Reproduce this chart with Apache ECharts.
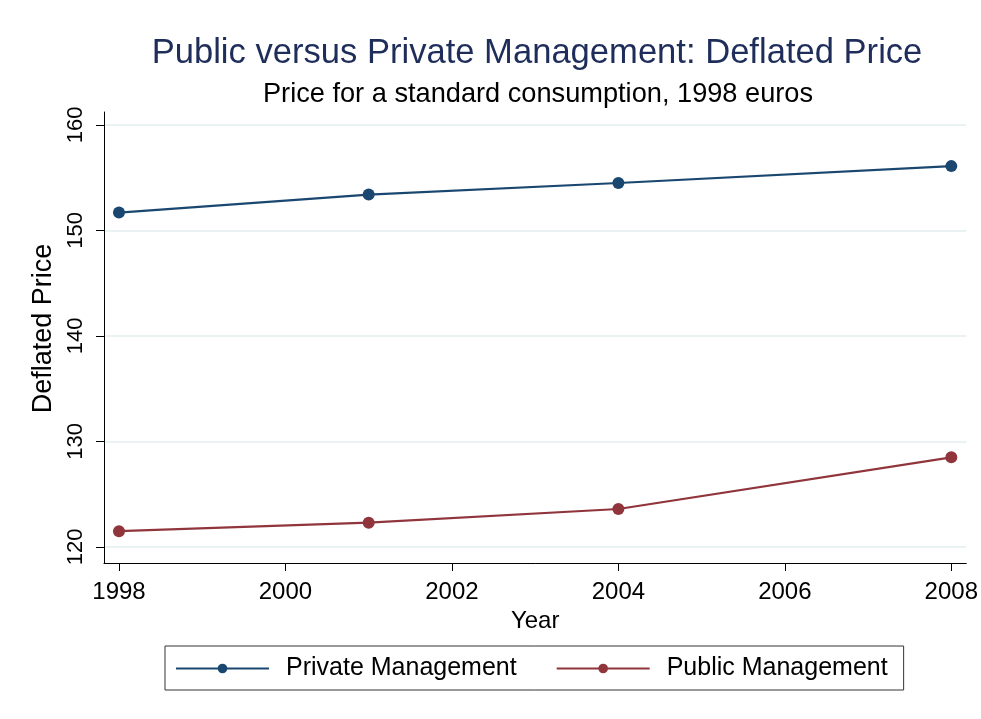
<!DOCTYPE html>
<html>
<head>
<meta charset="utf-8">
<script src="https://cdn.jsdelivr.net/npm/echarts@6/dist/echarts.min.js"></script>
<style>html,body{margin:0;padding:0;background:#fff;}#c{width:981px;height:719px;}</style>
</head>
<body>
<div id="c"></div>
<script>
var years = [1998, 2001, 2004, 2008];
var privateMgmt = [151.7, 153.4, 154.5, 156.1];
var publicMgmt = [121.5, 122.3, 123.6, 128.5];
var xTicks = [1998, 2000, 2002, 2004, 2006, 2008];
var yTicks = [120, 130, 140, 150, 160];

var chart = echarts.init(document.getElementById('c'));
var font = 'Liberation Sans, Arial, sans-serif';
function pairs(xs, ys){ return xs.map(function(x,i){ return [x, ys[i]]; }); }

chart.setOption({
  backgroundColor: '#ffffff',
  animation: false,
  title: [{
    text: 'Public versus Private Management: Deflated Price',
    left: 532, top: 31, textAlign: 'center',
    textStyle: {color: '#1e2d5a', fontFamily: font, fontWeight: 'normal', fontSize: 34.6}
  }, {
    text: 'Price for a standard consumption, 1998 euros',
    left: 533, top: 76, textAlign: 'center',
    textStyle: {color: '#000', fontFamily: font, fontWeight: 'normal', fontSize: 27.2}
  }],
  grid: {left: 104, right: 14, top: 112, bottom: 156, containLabel: false},
  xAxis: {
    type: 'value', min: 1997.82, max: 2008.18,
    name: 'Year', nameLocation: 'middle', nameGap: 36,
    nameTextStyle: {color: '#000', fontFamily: font, fontSize: 24},
    axisLine: {show: true, lineStyle: {color: '#000', width: 1}},
    axisTick: {show: true, length: 8, customValues: xTicks, lineStyle: {color: '#000'}},
    axisLabel: {customValues: xTicks, color: '#000', fontFamily: font, fontSize: 24, margin: 17,
      formatter: function(v){ return String(v); }},
    splitLine: {show: false}
  },
  yAxis: {
    type: 'value', min: 118.48, max: 161.23,
    name: 'Deflated Price', nameLocation: 'middle', nameGap: 44, nameRotate: 90,
    nameTextStyle: {color: '#000', fontFamily: font, fontSize: 27, padding: [0, 0, 0, 18]},
    axisLine: {show: true, lineStyle: {color: '#000', width: 1}},
    axisTick: {show: true, length: 8, customValues: yTicks, lineStyle: {color: '#000'}},
    axisLabel: {customValues: yTicks, rotate: 90, color: '#000', fontFamily: font, fontSize: 22, margin: 17,
      formatter: function(v){ return String(v); }},
    splitLine: {show: false}
  },
  legend: {
    bottom: 29, left: 165,
    itemWidth: 93, itemHeight: 12, itemGap: 39,
    padding: [10, 16, 9, 10],
    borderColor: '#333', borderWidth: 1,
    textStyle: {color: '#000', fontFamily: font, fontSize: 25, padding: [0, 0, 0, 12]},
    data: ['Private Management', 'Public Management']
  },
  series: [{
    name: 'Private Management', type: 'line',
    data: pairs(years, privateMgmt),
    symbol: 'circle', symbolSize: 12,
    lineStyle: {color: '#1a476f', width: 2.2},
    itemStyle: {color: '#1a476f'},
    markLine: {
      silent: true, symbol: 'none', label: {show: false},
      lineStyle: {color: '#eaf2f3', width: 2, type: 'solid'},
      data: yTicks.map(function(v){ return [{coord: [1997.82, v]}, {coord: [2008.18, v]}]; }),
      z: 0
    },
    z: 3
  }, {
    name: 'Public Management', type: 'line',
    data: pairs(years, publicMgmt),
    symbol: 'circle', symbolSize: 12,
    lineStyle: {color: '#90353b', width: 2.2},
    itemStyle: {color: '#90353b'},
    z: 3
  }]
});
</script>
</body>
</html>
